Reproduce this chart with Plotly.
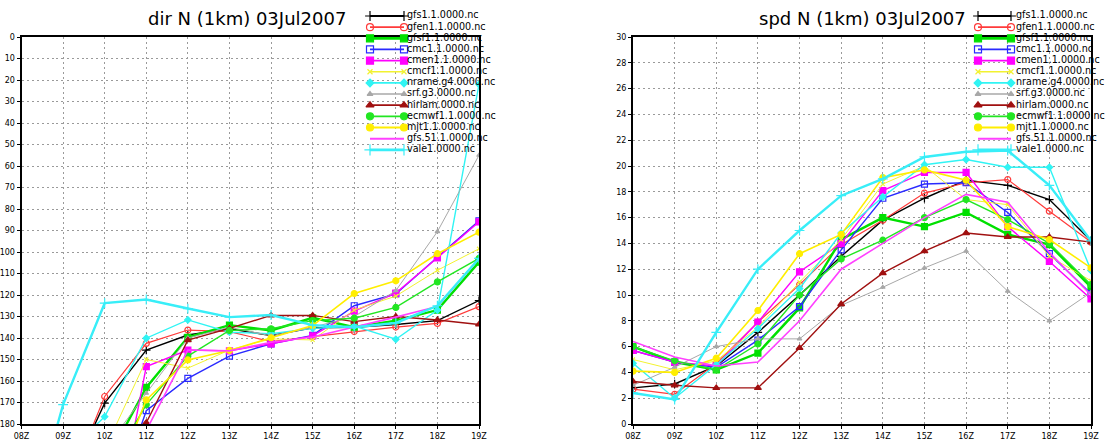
import plotly.graph_objects as go

W, H = 1105, 441

# ---------------- data ----------------
hours = ["08Z<br>03JUL", "09Z", "10Z", "11Z", "12Z", "13Z", "14Z", "15Z", "16Z", "17Z", "18Z", "19Z"]
dir_ticks = list(range(0, 181, 10))
spd_ticks = list(range(0, 31, 2))

names = ["gfs1.1.0000.nc", "gfen1.1.0000.nc", "gfsf1.1.0000.nc", "cmc1.1.0000.nc",
         "cmen1.1.0000.nc", "cmcf1.1.0000.nc", "nrame.g4.0000.nc", "srf.g3.0000.nc",
         "hirlam.0000.nc", "ecmwf1.1.0000.nc", "mjt1.1.0000.nc", "gfs.51.1.0000.nc",
         "vale1.0000.nc"]

# wind direction (deg), values > 180 are below the plotted range
dir_gfs1   = [None, 212, 170.3, 145.6, 138.6, 135.7, 138.8, 135.3, 135.0, 133.7, 131.9, 122.6]
dir_gfen   = [None, 215, 167.2, 142.5, 136.3, 137.0, 141.7, 139.4, 137.0, 134.9, 133.2, 125.4]
dir_gfsf   = [None, None, 199, 163.0, 139.7, 134.0, 136.5, 130.6, 135.0, 131.9, 127.0, 104.7]
dir_cmc    = [None, None, 230, 173.8, 158.8, 148.4, 142.7, 138.8, 125.0, 119.5, 102.4, 85.5]
dir_cmen   = [None, None, 252, 153.3, 145.6, 146.0, 142.7, 139.0, 127.5, 119.1, 102.7, 86.0]
dir_cmcf   = [None, None, 192, 150.0, 154.0, 145.6, 140.4, 140.9, 127.0, 120.5, 108.5, 98.5]
dir_nrame  = [None, 195, 176.6, 140.1, 131.6, 137.3, 138.0, 135.5, 134.5, 140.6, 127.0, 22.0]
dir_srf    = [None, None, 192, 165.7, 140.0, 135.0, 139.0, 135.0, 130.0, 118.0, 90.5, 55.0]
dir_hirlam = [None, None, None, 179.4, 141.0, 135.5, 129.5, 129.5, 132.4, 130.0, 131.6, 133.7]
dir_ecmwf  = [None, None, 204, 171.0, 148.4, 136.5, 135.7, 131.9, 130.8, 125.8, 113.9, 103.0]
dir_mjt    = [None, None, 217, 168.8, 150.2, 145.8, 139.9, 134.2, 119.3, 113.4, 100.8, 90.8]
dir_gfs51  = [None, None, None, 183, 145.6, 146.0, 142.0, 139.5, 135.0, 130.3, 125.3, 103.2]
dir_vale   = [240, 171, 123.8, 122.1, 126.3, 130.3, 129.3, 134.0, 135.0, 133.0, 125.0, 103.0]

# wind speed
spd_gfs1   = [2.8, 3.1, 4.5, 7.1, 10.0, 13.0, 15.8, 17.5, 18.9, 18.5, 17.4, 14.2]
spd_gfen   = [2.7, 2.3, 4.7, 7.9, 10.8, 13.9, 15.8, 17.9, 18.7, 18.95, 16.5, 14.1]
spd_gfsf   = [6.0, 4.8, 4.2, 5.5, 9.0, 14.3, 16.0, 15.3, 16.4, 14.7, 13.9, 10.6]
spd_cmc    = [5.7, 4.8, 4.4, 6.5, 9.1, 13.5, 17.5, 18.6, 18.7, 16.4, 13.2, 10.1]
spd_cmen   = [5.7, 4.8, 4.5, 7.9, 11.8, 14.0, 18.1, 19.5, 19.5, 15.3, 12.6, 9.7]
spd_cmcf   = [5.0, 4.2, 4.9, 7.5, 11.0, 14.3, 18.6, 20.0, 17.4, 17.0, 13.0, 11.1]
spd_nrame  = [4.7, 2.0, 4.6, 7.4, 10.5, 14.8, 17.6, 20.1, 20.5, 19.9, 19.9, 11.9]
spd_srf    = [3.0, 4.4, 6.0, 6.6, 6.6, 9.2, 10.6, 12.1, 13.4, 10.3, 8.0, 10.2]
spd_hirlam = [3.3, 3.0, 2.8, 2.8, 5.9, 9.3, 11.7, 13.4, 14.8, 14.5, 14.5, 14.1]
spd_ecmwf  = [6.0, 4.9, 4.2, 6.2, 10.0, 12.8, 14.25, 16.0, 17.4, 15.85, 14.0, 10.8]
spd_mjt    = [4.1, 4.0, 5.1, 8.8, 13.2, 14.7, 19.1, 19.7, 18.9, 15.3, 14.3, 12.1]
spd_gfs51  = [6.4, 5.2, 4.5, 4.8, 8.0, 12.0, 14.0, 16.0, 17.8, 17.2, 13.3, 10.0]
spd_vale   = [2.4, 1.9, 7.1, 12.0, 15.0, 17.7, 19.0, 20.7, 21.1, 21.2, 18.5, 14.2]

dir_series = [dir_gfs1, dir_gfen, dir_gfsf, dir_cmc, dir_cmen, dir_cmcf, dir_nrame,
              dir_srf, dir_hirlam, dir_ecmwf, dir_mjt, dir_gfs51, dir_vale]
spd_series = [spd_gfs1, spd_gfen, spd_gfsf, spd_cmc, spd_cmen, spd_cmcf, spd_nrame,
              spd_srf, spd_hirlam, spd_ecmwf, spd_mjt, spd_gfs51, spd_vale]

# ---------------- styles ----------------
styles = [
    dict(color="#000000", width=1.4, symbol="cross-thin", size=6),
    dict(color="#ff3a3a", width=1.2, symbol="circle-open", size=6),
    dict(color="#00e000", width=2.4, symbol="square", size=6),
    dict(color="#2a2aff", width=1.4, symbol="square-open", size=6),
    dict(color="#ff00ff", width=1.4, symbol="square", size=6),
    dict(color="#f2f230", width=1.0, symbol="x-thin", size=4),
    dict(color="#30f4f4", width=1.4, symbol="diamond", size=5),
    dict(color="#a8a8a8", width=1.0, symbol="triangle-up", size=4),
    dict(color="#a01010", width=1.4, symbol="triangle-up", size=6),
    dict(color="#22e622", width=1.4, symbol="circle", size=6),
    dict(color="#ffee00", width=1.6, symbol="circle", size=6),
    dict(color="#ff40ff", width=1.6, symbol=None, size=0),
    dict(color="#38eef8", width=2.4, symbol="cross-thin", size=7),
]

x_idx = list(range(len(hours)))

fig = go.Figure()


def add_series(ys, st, name, xa, ya):
    mode = "lines" if st["symbol"] is None else "lines+markers"
    marker = None
    if st["symbol"] is not None:
        marker = dict(symbol=st["symbol"], size=st["size"], color=st["color"],
                      line=dict(color=st["color"], width=1.2))
    fig.add_trace(go.Scatter(x=x_idx, y=ys, mode=mode, name=name, showlegend=False,
                             line=dict(color=st["color"], width=st["width"]),
                             marker=marker, xaxis=xa, yaxis=ya, connectgaps=False))


for ys, st, nm in zip(dir_series, styles, names):
    add_series(ys, st, nm, "x", "y")
for ys, st, nm in zip(spd_series, styles, names):
    add_series(ys, st, nm, "x2", "y2")

# ---------------- hand-drawn legends (pixel overlay axis) ----------------
LEG_ROW0, LEG_DY = 16.0, 11.15
legend_boxes = [(370, 404, 407), (978, 1011, 1016)]
for (lx0, lx1, tx) in legend_boxes:
    for i, (st, nm) in enumerate(zip(styles, names)):
        yy = LEG_ROW0 + i * LEG_DY
        mode = "lines" if st["symbol"] is None else "lines+markers"
        marker = None
        if st["symbol"] is not None:
            marker = dict(symbol=st["symbol"], size=st["size"] + 1, color=st["color"],
                          line=dict(color=st["color"], width=1.2))
        fig.add_trace(go.Scatter(x=[lx0, lx1], y=[yy, yy], mode=mode, showlegend=False,
                                 line=dict(color=st["color"], width=st["width"] + 0.4),
                                 marker=marker, xaxis="x3", yaxis="y3", hoverinfo="skip",
                                 cliponaxis=False))
    fig.add_trace(go.Scatter(x=[tx] * len(names),
                             y=[LEG_ROW0 + i * LEG_DY for i in range(len(names))],
                             text=names, mode="text", textposition="middle right",
                             textfont=dict(family="DejaVu Sans", size=9.6, color="#000"),
                             showlegend=False, xaxis="x3", yaxis="y3", hoverinfo="skip",
                             cliponaxis=False))

# ---------------- layout ----------------
def px_x(v):
    return v / W


def px_y(v):
    return 1 - v / H


ydom = [px_y(424), px_y(37)]
axis_common = dict(showgrid=True, gridcolor="#9a9a9a", griddash="2px,3px", gridwidth=1,
                   showline=True, mirror=True, linecolor="#000", linewidth=2,
                   ticks="outside", ticklen=3, tickcolor="#000", zeroline=False,
                   automargin=False,
                   tickfont=dict(family="DejaVu Sans", size=8, color="#000"))

fig.update_layout(
    template="none",
    width=W, height=H,
    margin=dict(l=0, r=0, t=0, b=0, autoexpand=False),
    paper_bgcolor="white", plot_bgcolor="rgba(0,0,0,0)",
    showlegend=False,
    xaxis=dict(domain=[px_x(21.5), px_x(479)], range=[0, 11], tickvals=x_idx,
               ticktext=hours, anchor="y", **axis_common),
    yaxis=dict(domain=ydom, range=[180, 0], tickvals=dir_ticks, anchor="x", **axis_common),
    xaxis2=dict(domain=[px_x(633), px_x(1091)], range=[0, 11], tickvals=x_idx,
                ticktext=hours, anchor="y2", **axis_common),
    yaxis2=dict(domain=ydom, range=[0, 30], tickvals=spd_ticks, anchor="x2", **axis_common),
    xaxis3=dict(domain=[0, 1], range=[0, W], visible=False, anchor="y3", fixedrange=True,
                automargin=False),
    yaxis3=dict(domain=[0, 1], range=[H, 0], visible=False, anchor="x3", fixedrange=True,
                automargin=False),
    annotations=[
        dict(text="dir N (1km) 03Jul2007", x=px_x(247), y=px_y(19), xref="paper", yref="paper",
             showarrow=False, xanchor="center", yanchor="middle",
             font=dict(family="DejaVu Sans", size=18, color="#000")),
        dict(text="spd N (1km) 03Jul2007", x=px_x(862), y=px_y(19), xref="paper", yref="paper",
             showarrow=False, xanchor="center", yanchor="middle",
             font=dict(family="DejaVu Sans", size=18, color="#000")),
    ],
)

# remove the browser's default 8px page margin so the figure fills the window exactly
fig.write_html("out.html", config={"displayModeBar": False},
               post_script="document.body.style.margin='0';document.body.style.overflow='hidden';")
